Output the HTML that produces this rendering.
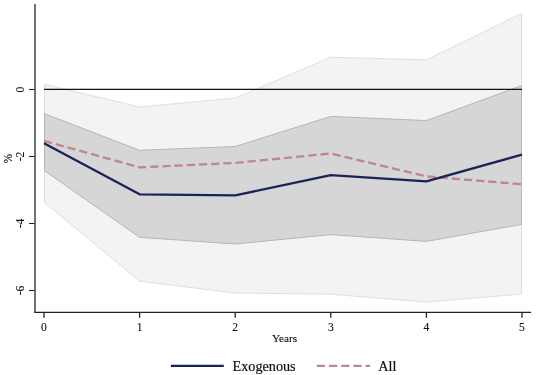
<!DOCTYPE html>
<html><head><meta charset="utf-8"><title>Chart</title>
<style>html,body{margin:0;padding:0;background:#fff;}</style></head>
<body>
<svg width="538" height="375" viewBox="0 0 538 375" style="display:block">
<rect width="538" height="375" fill="#fff"/>
<polygon points="44.5,84.3 139.6,107.0 235.2,98.1 330.8,57.2 426.4,59.9 521.5,13.5 521.5,294.0 426.4,302.1 330.8,294.2 235.2,293.0 139.6,281.2 44.5,202.4" fill="#f3f3f3" stroke="#dfdfdf" stroke-width="1" stroke-linejoin="round"/>
<polygon points="44.5,113.7 139.6,150.3 235.2,146.5 330.8,116.4 426.4,120.6 521.5,85.6 521.5,224.4 426.4,241.4 330.8,234.6 235.2,244.0 139.6,237.3 44.5,170.7" fill="#d6d6d6" stroke="#b6b6b6" stroke-width="1" stroke-linejoin="round"/>
<line x1="44" y1="89.45" x2="522" y2="89.45" stroke="#111" stroke-width="1.25"/>
<polyline points="44.0,140.9 139.6,167.4 235.2,162.9 330.8,153.5 426.4,176.4 522.0,184.3" fill="none" stroke="#bf868b" stroke-width="2.3" stroke-dasharray="8.2 4" stroke-linejoin="round"/>
<polyline points="44.0,143.3 139.6,194.3 235.2,195.4 330.8,175.2 426.4,181.4 522.0,154.6" fill="none" stroke="#1b2355" stroke-width="2.3" stroke-linejoin="round"/>
<line x1="35" y1="4" x2="35" y2="312.6" stroke="#222" stroke-width="1.3"/>
<line x1="34.3" y1="312.4" x2="531" y2="312.4" stroke="#222" stroke-width="1.1"/>
<g stroke="#222">
<line x1="29" y1="89.5" x2="34.5" y2="89.5" stroke-width="1.1"/>
<line x1="29" y1="156.5" x2="34.5" y2="156.5" stroke-width="1.1"/>
<line x1="29" y1="223.5" x2="34.5" y2="223.5" stroke-width="1.1"/>
<line x1="29" y1="290.5" x2="34.5" y2="290.5" stroke-width="1.1"/>
<line x1="44.0" y1="312.5" x2="44.0" y2="317.8" stroke-width="1.3"/>
<line x1="139.6" y1="312.5" x2="139.6" y2="317.8" stroke-width="1.3"/>
<line x1="235.2" y1="312.5" x2="235.2" y2="317.8" stroke-width="1.3"/>
<line x1="330.8" y1="312.5" x2="330.8" y2="317.8" stroke-width="1.3"/>
<line x1="426.4" y1="312.5" x2="426.4" y2="317.8" stroke-width="1.3"/>
<line x1="522.0" y1="312.5" x2="522.0" y2="317.8" stroke-width="1.3"/>
</g>
<g font-family="Liberation Serif, serif" font-size="11.8" fill="#111" stroke="#111" stroke-width="0.12" text-anchor="middle">
<text transform="translate(44.0,330.6) scale(0.98,1)">0</text>
<text transform="translate(139.6,330.6) scale(0.98,1)">1</text>
<text transform="translate(235.2,330.6) scale(0.98,1)">2</text>
<text transform="translate(330.8,330.6) scale(0.98,1)">3</text>
<text transform="translate(426.4,330.6) scale(0.98,1)">4</text>
<text transform="translate(522.0,330.6) scale(0.98,1)">5</text>
<text transform="translate(284.5,342) scale(0.96,0.95)">Years</text>
<text transform="translate(24.1,89.5) rotate(-90) scale(0.98,1)">0</text>
<text transform="translate(24.1,156.5) rotate(-90) scale(0.98,1)">-2</text>
<text transform="translate(24.1,223.5) rotate(-90) scale(0.98,1)">-4</text>
<text transform="translate(24.1,290.5) rotate(-90) scale(0.98,1)">-6</text>
<text transform="translate(11.7,158.5) rotate(-90) scale(0.95,1.08)">%</text>
</g>
<line x1="170.9" y1="365.8" x2="223.8" y2="365.8" stroke="#1b2355" stroke-width="2.3"/>
<line x1="316.8" y1="365.8" x2="370.1" y2="365.8" stroke="#bf868b" stroke-width="2.3" stroke-dasharray="8.2 4"/>
<g font-family="Liberation Serif, serif" font-size="14.2" fill="#111" stroke="#111" stroke-width="0.2">
<text x="232.6" y="371.1">Exogenous</text>
<text x="378.3" y="371.1">All</text>
</g>
</svg>
</body></html>
